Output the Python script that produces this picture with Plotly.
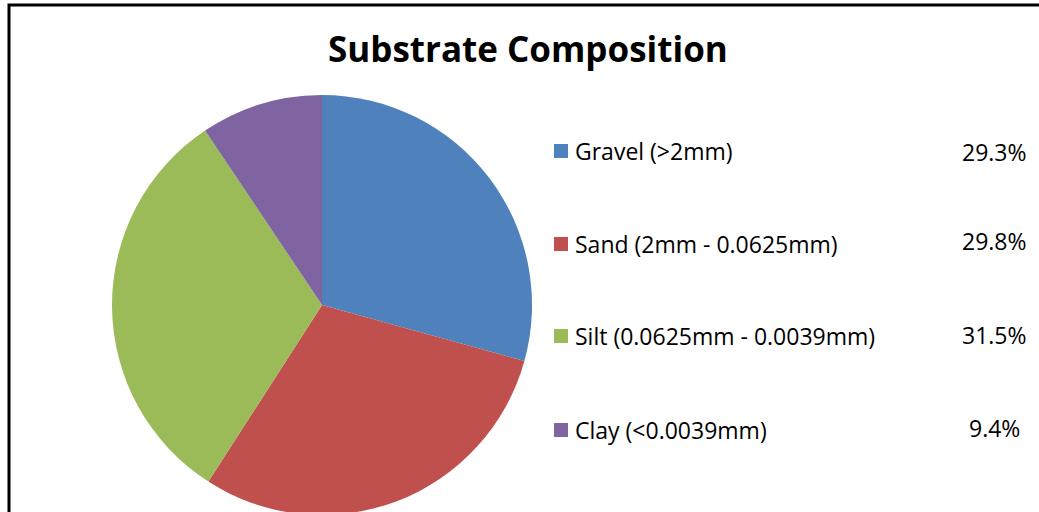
import plotly.graph_objects as go

# ---- data ----
categories = ["Gravel (>2mm)", "Sand (2mm - 0.0625mm)", "Silt (0.0625mm - 0.0039mm)", "Clay (<0.0039mm)"]
values = [29.3, 29.8, 31.5, 9.4]
pct_labels = ["29.3%", "29.8%", "31.5%", "9.4%"]
colors = ["#4F81BD", "#C0504D", "#9BBB59", "#8064A2"]

# ---- layout (pixels) ----
W, H = 1039, 520
def px(x):
    return x / W
def py(y):
    return 1 - y / H

legend_rows = [151, 244, 336, 430]
pct_rows = [152, 241, 335, 428]
FONT = "Open Sans, Calibri, Carlito, sans-serif"

fig = go.Figure(go.Pie(
    labels=categories,
    values=values,
    sort=False,
    direction="clockwise",
    rotation=0,
    marker=dict(colors=colors, line=dict(width=0)),
    textinfo="none",
    hoverinfo="label+percent",
    showlegend=False,
    domain=dict(x=[px(112), px(532)], y=[py(515), py(95)]),
))

shapes = [dict(type="rect", xref="paper", yref="paper",
               x0=px(9), x1=1.05, y0=-0.2, y1=py(5),
               line=dict(color="black", width=3), fillcolor="rgba(0,0,0,0)")]
annotations = [dict(text="<b>Substrate Composition</b>", xref="paper", yref="paper",
                    x=px(528), y=py(48), xanchor="center", yanchor="middle",
                    showarrow=False, font=dict(family=FONT, size=35, color="black"))]

for i, (lab, col) in enumerate(zip(categories, colors)):
    cy = legend_rows[i]
    shapes.append(dict(type="rect", xref="paper", yref="paper",
                       x0=px(554), x1=px(568), y0=py(cy + 7), y1=py(cy - 7),
                       line=dict(width=0), fillcolor=col))
    annotations.append(dict(text=lab, xref="paper", yref="paper",
                            x=px(573), y=py(cy), xanchor="left", yanchor="middle",
                            showarrow=False, font=dict(family=FONT, size=23, color="black")))
    annotations.append(dict(text=pct_labels[i], xref="paper", yref="paper",
                            x=px(994), y=py(pct_rows[i]), xanchor="center", yanchor="middle",
                            showarrow=False, font=dict(family=FONT, size=23, color="black")))

fig.update_layout(
    width=W, height=H,
    margin=dict(l=0, r=0, t=0, b=0),
    paper_bgcolor="white",
    plot_bgcolor="white",
    shapes=shapes,
    annotations=annotations,
)

fig.write_html("out.html", config={"displayModeBar": False},
               post_script="document.body.style.margin='0';document.body.style.overflow='hidden';document.documentElement.style.overflow='hidden';")
